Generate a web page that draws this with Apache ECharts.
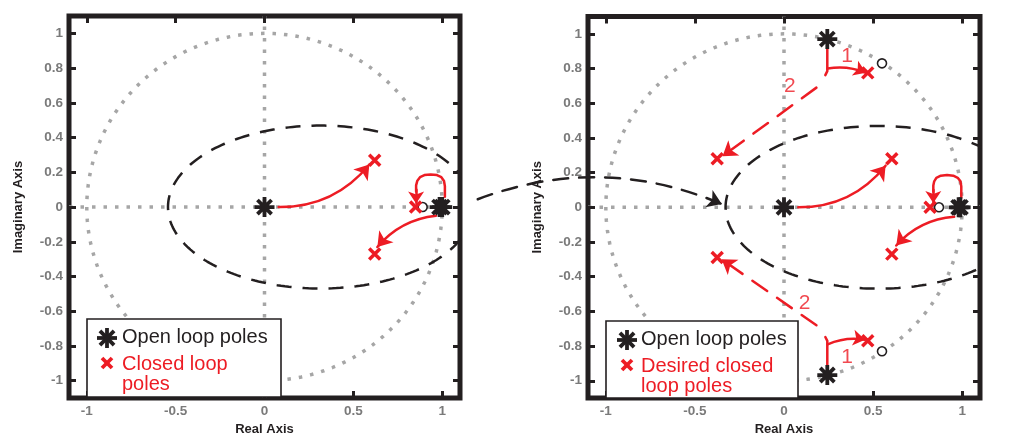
<!DOCTYPE html>
<html><head><meta charset="utf-8">
<script src="https://cdn.jsdelivr.net/npm/echarts@6/dist/echarts.min.js"></script>
<style>html,body{margin:0;padding:0;background:#fff}#c{width:1018px;height:441px}</style>
</head><body><div id="c"></div>
<script>
// ---------- data ----------
const xTicks = [-1, -0.5, 0, 0.5, 1];
const yTicks = [-1, -0.8, -0.6, -0.4, -0.2, 0, 0.2, 0.4, 0.6, 0.8, 1];
const axisMin = -1.1, axisMax = 1.1;
const xAxisTitle = 'Real Axis';
const yAxisTitle = 'Imaginary Axis';

// shapes: [centerX, centerY, radiusX, radiusY]
const unitCircle = [0, 0, 1, 1];
const ellipseLeft = [0.315, 0, 0.858, 0.469];
const ellipseRight = [0.53, 0, 0.858, 0.469];
const crossH = [[-1.1, 0], [1.1, 0]];
const crossV = [[0, -1.1], [0, 1.1]];

const openPolesLeft = [[0, 0], [0.985, 0], [1.0, 0]];
const closedPolesLeft = [[0.62, 0.27], [0.62, -0.27], [0.85, 0]];
const zerosLeft = [[0.89, 0]];

const openPolesRight = [[0, 0], [0.98, 0], [0.99, 0], [0.243, 0.97], [0.243, -0.967]];
const closedPolesRight = [[0.605, 0.28], [0.605, -0.27], [0.82, 0], [0.47, 0.775], [0.47, -0.77], [-0.375, 0.28], [-0.375, -0.29]];
const zerosRight = [[0.87, 0], [0.55, 0.83], [0.55, -0.83]];

// root-locus style arrows (data coordinates)
const arrowUpLeft = [[0.08, 0], [0.59, 0.245]];
const arrowDownLeft = [[0.965, -0.05], [0.635, -0.23]];
const loopLeft = [[1.015, 0.06], [1.015, 0.12], [1.01, 0.15], [0.995, 0.172], [0.97, 0.184], [0.935, 0.188], [0.9, 0.184], [0.875, 0.172], [0.86, 0.152], [0.853, 0.125], [0.853, 0.09]];
const loopLeftTip = [[0.853, 0.1], [0.853, 0.02]];

const arrowUpRight = [[0.08, 0], [0.57, 0.24]];
const arrowDownRight = [[0.955, -0.055], [0.63, -0.22]];
const loopRight = [[0.995, 0.055], [0.995, 0.12], [0.99, 0.15], [0.975, 0.17], [0.95, 0.182], [0.915, 0.186], [0.88, 0.182], [0.855, 0.17], [0.843, 0.15], [0.838, 0.125], [0.838, 0.09]];
const loopRightTip = [[0.838, 0.1], [0.838, 0.025]];

const stemTop = [[0.243, 0.92], [0.243, 0.785], [0.232, 0.762]];
const stemBottom = [[0.243, -0.92], [0.243, -0.77], [0.232, -0.748]];
const arrow1Top = [[0.245, 0.8], [0.46, 0.775]];
const arrow1Bottom = [[0.245, -0.79], [0.455, -0.763]];
const arrow2Top = [[0.182, 0.69], [-0.345, 0.295]];
const arrow2Bottom = [[0.182, -0.68], [-0.35, -0.3]];
const stepLabels = [
  { name: '1', value: [0.354, 0.87] },
  { name: '2', value: [0.033, 0.696] },
  { name: '2', value: [0.116, -0.555] },
  { name: '1', value: [0.354, -0.865] }
];

// connector from left ellipse to right ellipse (left-plot data coordinates)
const connector = [[1.2, 0.045], [2.573, 0.017]];

const legendLeftLabels = ['Open loop poles', 'Closed loop', 'poles'];
const legendRightLabels = ['Open loop poles', 'Desired closed', 'loop poles'];

// ---------- style ----------
const FONT = "'Liberation Sans', Arial, Helvetica, sans-serif";
const BLACK = '#231f20';
const RED = '#ed1c24';
const GRAY = '#a6a6a6';
const TICKGRAY = '#7a7a7a';
const ASTERISK = 'path://M0,-10L0,10M-10,0L10,0M-7.07,-7.07L7.07,7.07M-7.07,7.07L7.07,-7.07';
const CROSS = 'path://M-5,-5L5,5M-5,5L5,-5';

function shapePts(s, n) {
  const pts = [];
  for (let i = 0; i <= n; i++) {
    const t = 2 * Math.PI * i / n;
    pts.push([s[0] + s[2] * Math.cos(t), s[1] + s[3] * Math.sin(t)]);
  }
  return pts;
}

function axesFor(g) {
  const tickStyle = { color: BLACK, width: 3 };
  const labelStyle = { color: TICKGRAY, fontWeight: 'bold', fontSize: 13.5, fontFamily: FONT };
  const nameStyle = { color: BLACK, fontWeight: 'bold', fontSize: 13, fontFamily: FONT };
  const line = { show: false, onZero: false };
  const tick = (vals) => ({ show: true, inside: true, length: 7, customValues: vals, lineStyle: tickStyle });
  const x = [
    { gridIndex: g, type: 'value', min: axisMin, max: axisMax, position: 'bottom', z: 5,
      axisLine: line, splitLine: { show: false }, axisTick: tick(xTicks),
      axisLabel: Object.assign({ show: true, margin: 6, customValues: xTicks }, labelStyle),
      name: xAxisTitle, nameLocation: 'middle', nameGap: 21, nameTextStyle: nameStyle },
    { gridIndex: g, type: 'value', min: axisMin, max: axisMax, position: 'top', z: 5,
      axisLine: line, splitLine: { show: false }, axisTick: tick(xTicks),
      axisLabel: { show: false } }
  ];
  const y = [
    { gridIndex: g, type: 'value', min: axisMin, max: axisMax, position: 'left', z: 5,
      axisLine: line, splitLine: { show: false }, axisTick: tick(yTicks),
      axisLabel: Object.assign({ show: true, margin: 6, customValues: yTicks }, labelStyle),
      name: yAxisTitle, nameLocation: 'middle', nameGap: 44, nameTextStyle: nameStyle },
    { gridIndex: g, type: 'value', min: axisMin, max: axisMax, position: 'right', z: 5,
      axisLine: line, splitLine: { show: false }, axisTick: tick(yTicks),
      axisLabel: { show: false } }
  ];
  return { x, y };
}

function lineSer(ax, data, style, z) {
  return { type: 'line', xAxisIndex: ax, yAxisIndex: ax, data, showSymbol: false, symbol: 'none',
    clip: false, silent: true, z: z, lineStyle: style };
}
function arrowSer(ax, coords, opts) {
  return { type: 'lines', coordinateSystem: 'cartesian2d', xAxisIndex: ax, yAxisIndex: ax,
    polyline: !!opts.polyline, clip: false, silent: true, z: opts.z || 4,
    symbol: opts.noArrow ? 'none' : ['none', 'arrow'], symbolSize: opts.size || 14,
    lineStyle: { color: opts.color || RED, width: opts.width || 2.5, opacity: 1,
      curveness: opts.curve || 0, type: opts.dash || 'solid', cap: 'round', join: 'round' },
    data: [{ coords }] };
}
function scatterSer(ax, data, symbol, size, fill, stroke, bw, z) {
  return { type: 'scatter', xAxisIndex: ax, yAxisIndex: ax, data, symbol, symbolSize: size,
    silent: true, z: z, itemStyle: { color: fill, borderColor: stroke, borderWidth: bw, opacity: 1 } };
}

function plotSeries(ax, ell, open, closed, zeros) {
  const dot = { color: GRAY, width: 3.5, type: [3.5, 8], cap: 'butt' };
  const dash = { color: BLACK, width: 2.5, type: [15, 11], cap: 'butt' };
  return [
    lineSer(ax, crossH, dot, 1),
    lineSer(ax, crossV, dot, 1),
    lineSer(ax, shapePts(unitCircle, 240), dot, 1),
    lineSer(ax, shapePts(ell, 240), dash, 2),
    scatterSer(ax, zeros, 'circle', 9, '#ffffff', BLACK, 1.6, 6),
    scatterSer(ax, closed, CROSS, 11, RED, RED, 3.5, 7),
    scatterSer(ax, open, ASTERISK, 20, BLACK, BLACK, 3.8, 8)
  ];
}

const L = axesFor(0), R = axesFor(1);
const xAxis = [L.x[0], L.x[1], R.x[0], R.x[1]];
const yAxis = [L.y[0], L.y[1], R.y[0], R.y[1]];
xAxis[2].gridIndex = 1; xAxis[3].gridIndex = 1; yAxis[2].gridIndex = 1; yAxis[3].gridIndex = 1;

const series = [].concat(
  plotSeries(0, ellipseLeft, openPolesLeft, closedPolesLeft, zerosLeft),
  plotSeries(2, ellipseRight, openPolesRight, closedPolesRight, zerosRight),
  [
    arrowSer(0, arrowUpLeft, { curve: -0.24 }),
    arrowSer(0, arrowDownLeft, { curve: -0.2 }),
    arrowSer(0, loopLeft, { polyline: true, noArrow: true }),
    arrowSer(0, loopLeftTip, { size: 12 }),
    arrowSer(2, arrowUpRight, { curve: -0.24 }),
    arrowSer(2, arrowDownRight, { curve: -0.2 }),
    arrowSer(2, loopRight, { polyline: true, noArrow: true }),
    arrowSer(2, loopRightTip, { size: 12 }),
    arrowSer(2, stemTop, { polyline: true, noArrow: true }),
    arrowSer(2, stemBottom, { polyline: true, noArrow: true }),
    arrowSer(2, arrow1Top, { curve: 0.15, size: 12 }),
    arrowSer(2, arrow1Bottom, { curve: 0.15, size: 12 }),
    arrowSer(2, arrow2Top, { dash: [18, 12] }),
    arrowSer(2, arrow2Bottom, { dash: [18, 12] }),
    arrowSer(0, connector, { curve: 0.2, color: BLACK, dash: [15, 11], z: 3 }),
    { type: 'scatter', xAxisIndex: 2, yAxisIndex: 2, data: stepLabels, symbol: 'circle', symbolSize: 1,
      silent: true, z: 9, itemStyle: { color: 'rgba(0,0,0,0)' },
      label: { show: true, position: 'inside', formatter: '{b}', color: RED, fontSize: 21, fontFamily: FONT } }
  ]
);

function legendBox(x, y, w, h, labels, iconX, textX) {
  const a = [];
  const ast = [[0, -10, 0, 10], [-10, 0, 10, 0], [-7.07, -7.07, 7.07, 7.07], [-7.07, 7.07, 7.07, -7.07]];
  const crs = [[-5, -5, 5, 5], [-5, 5, 5, -5]];
  const mk = (segs, cx, cy, col) => ({ type: 'group', x: cx, y: cy, z: 100,
    children: segs.map(s => ({ type: 'line', z: 101, shape: { x1: s[0], y1: s[1], x2: s[2], y2: s[3] },
      style: { stroke: col, lineWidth: 3.8 } })) });
  a.push({ type: 'rect', z: 100, shape: { x, y, width: w, height: h },
    style: { fill: '#fff', stroke: BLACK, lineWidth: 1.6 } });
  a.push(mk(ast, iconX, y + 19, BLACK));
  a.push(mk(crs, iconX, y + 44, RED));
  const tf = '20px ' + FONT;
  a.push({ type: 'text', z: 101, x: textX, y: y + 18, style: { text: labels[0], font: tf, fill: BLACK, verticalAlign: 'middle' } });
  a.push({ type: 'text', z: 101, x: textX, y: y + 45, style: { text: labels[1], font: tf, fill: RED, verticalAlign: 'middle' } });
  a.push({ type: 'text', z: 101, x: textX, y: y + 65, style: { text: labels[2], font: tf, fill: RED, verticalAlign: 'middle' } });
  return a;
}

const option = {
  animation: false,
  backgroundColor: '#ffffff',
  grid: [
    { left: 69, top: 16, width: 391, height: 391, show: true, borderColor: BLACK, borderWidth: 5, backgroundColor: 'rgba(0,0,0,0)' },
    { left: 588, top: 16.5, width: 392, height: 392, show: true, borderColor: BLACK, borderWidth: 5, backgroundColor: 'rgba(0,0,0,0)' }
  ],
  xAxis, yAxis, series,
  graphic: [].concat(
    legendBox(87, 319, 194, 78, legendLeftLabels, 107, 122),
    legendBox(606, 321, 192, 77, legendRightLabels, 627, 641)
  )
};
const chart = echarts.init(document.getElementById('c'), null, { renderer: 'canvas' });
chart.setOption(option);
</script></body></html>
